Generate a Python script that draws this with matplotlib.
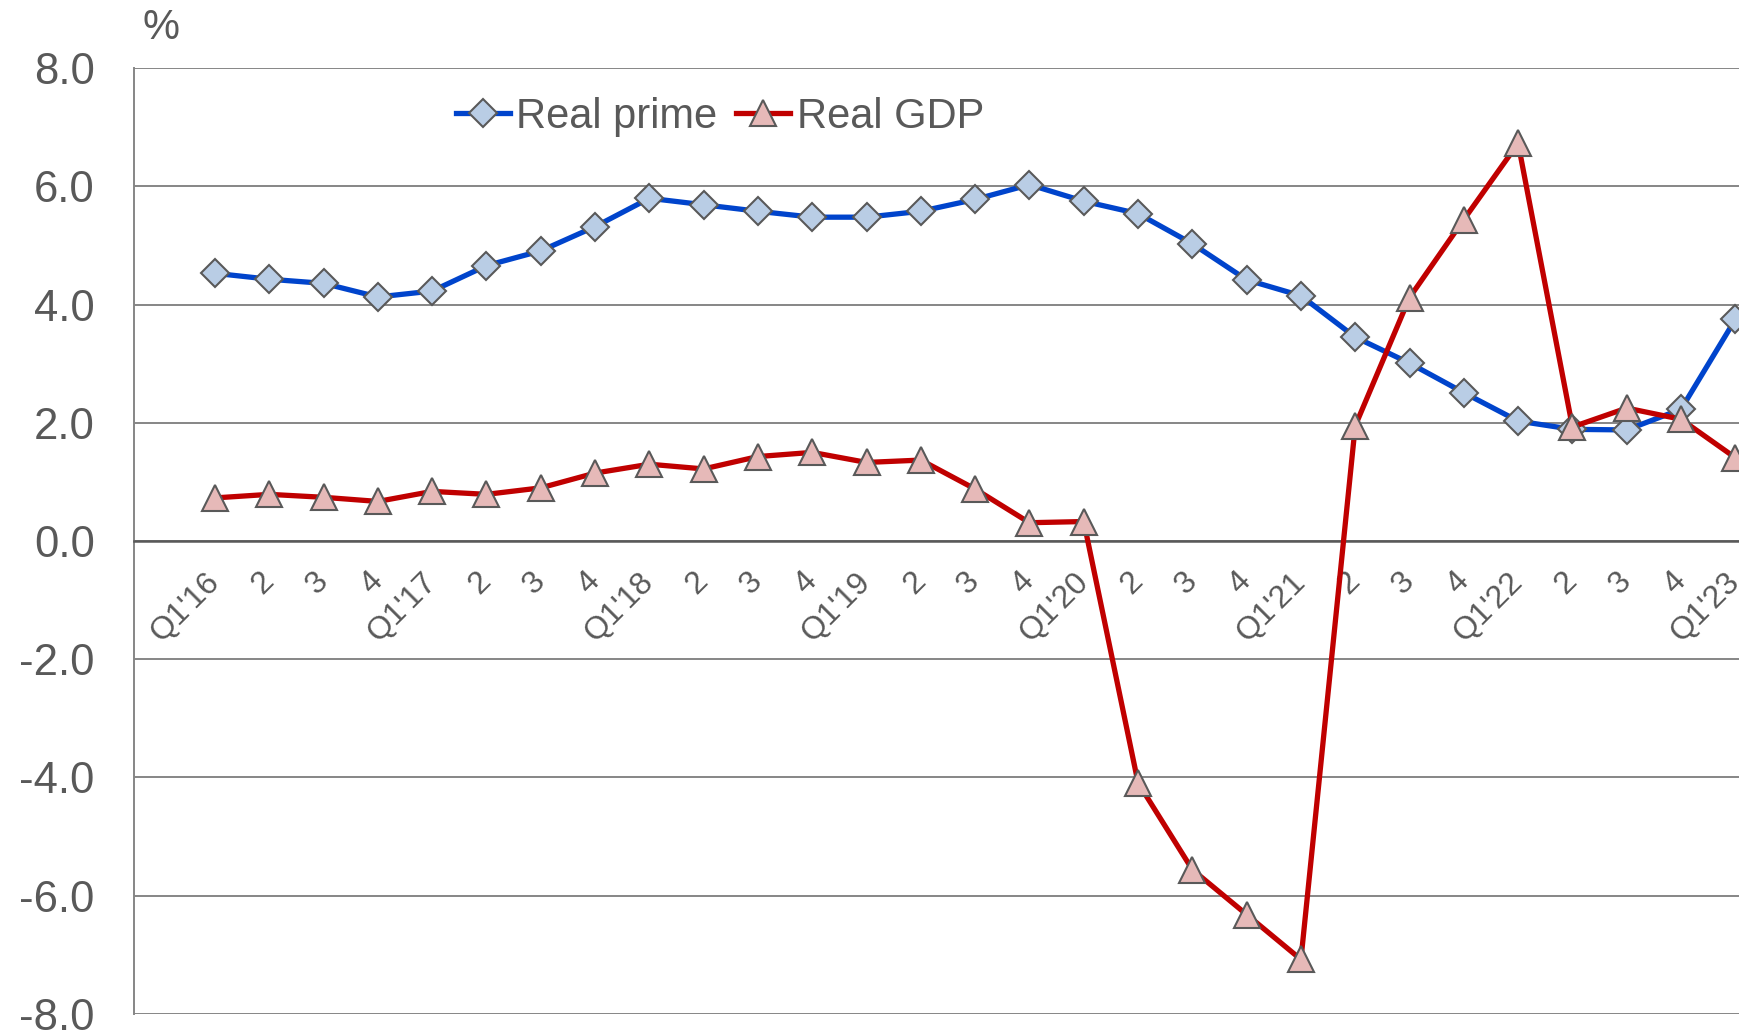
import matplotlib
matplotlib.use("Agg")
import matplotlib.pyplot as plt

# quarter labels along the x axis
quarters = ["Q1'16", "2", "3", "4",
            "Q1'17", "2", "3", "4",
            "Q1'18", "2", "3", "4",
            "Q1'19", "2", "3", "4",
            "Q1'20", "2", "3", "4",
            "Q1'21", "2", "3", "4",
            "Q1'22", "2", "3", "4",
            "Q1'23"]

real_prime = [4.53, 4.43, 4.36, 4.13,
              4.23, 4.66, 4.91, 5.32,
              5.80, 5.69, 5.58, 5.48,
              5.48, 5.58, 5.78, 6.03,
              5.75, 5.54, 5.03, 4.42,
              4.15, 3.45, 3.01, 2.51,
              2.03, 1.89, 1.88, 2.23,
              3.75]

real_gdp = [0.73, 0.79, 0.74, 0.67,
            0.84, 0.79, 0.90, 1.15,
            1.30, 1.22, 1.43, 1.50,
            1.33, 1.37, 0.88, 0.31,
            0.33, -4.09, -5.56, -6.32,
            -7.08, 1.95, 4.12, 5.44,
            6.73, 1.93, 2.25, 2.06,
            1.41]

y_ticks = [-8, -6, -4, -2, 0, 2, 4, 6, 8]
y_labels = ["-8.0", "-6.0", "-4.0", "-2.0", "0.0", "2.0", "4.0", "6.0", "8.0"]

TXT = "#595959"
GRID = "#868686"

plt.rcParams['font.family'] = ['Liberation Sans', 'DejaVu Sans']

fig = plt.figure(figsize=(17.39, 10.34), dpi=100)
ax = fig.add_axes([0.0768, 0.0195, 0.9367, 0.9145])

x = list(range(len(quarters)))

ax.plot(x, real_prime, color="#0044CC", lw=3.8, marker="D", ms=14.5,
        mfc="#B9CDE5", mec="#595959", mew=1.5, label="Real prime", zorder=3,
        clip_on=False)
ax.plot(x, real_gdp, color="#C00000", lw=3.8, marker="^", ms=19,
        mfc="#E6B9B8", mec="#595959", mew=1.5, label="Real GDP", zorder=4,
        clip_on=False)

ax.set_xlim(-1.5, 28.5)
ax.set_ylim(-8, 8)

# move the category axis onto the zero line first (this resets the ticks)
ax.spines['top'].set_visible(False)
ax.spines['right'].set_visible(False)
ax.spines['left'].set_color(GRID)
ax.spines['left'].set_linewidth(1.4)
ax.spines['bottom'].set_position(('data', 0))
ax.spines['bottom'].set_color(TXT)
ax.spines['bottom'].set_linewidth(1.8)

ax.set_yticks(y_ticks)
ax.set_yticklabels(y_labels)
ax.yaxis.grid(True, color=GRID, lw=1.4)
ax.set_axisbelow(True)

ax.set_xticks(x)
ax.set_xticklabels(quarters, rotation=45, ha="right", va="center",
                   rotation_mode="anchor")

ax.tick_params(axis='y', length=0, pad=28, labelsize=31.5, labelcolor=TXT)
ax.tick_params(axis='x', length=0, pad=26, labelsize=23, labelcolor=TXT)

fig.text(142 / 1739, 1 - 28 / 1034, "%", fontsize=30, color=TXT,
         ha="left", va="center")

leg = ax.legend(loc="center left", bbox_to_anchor=(456 / 1739, 1 - 117 / 1034),
                bbox_transform=fig.transFigure, ncol=2, frameon=False,
                fontsize=30, handlelength=1.3, handletextpad=0.15,
                columnspacing=0.45, borderpad=0, borderaxespad=0)
for t in leg.get_texts():
    t.set_color(TXT)

fig.savefig("out.png", dpi=100)
